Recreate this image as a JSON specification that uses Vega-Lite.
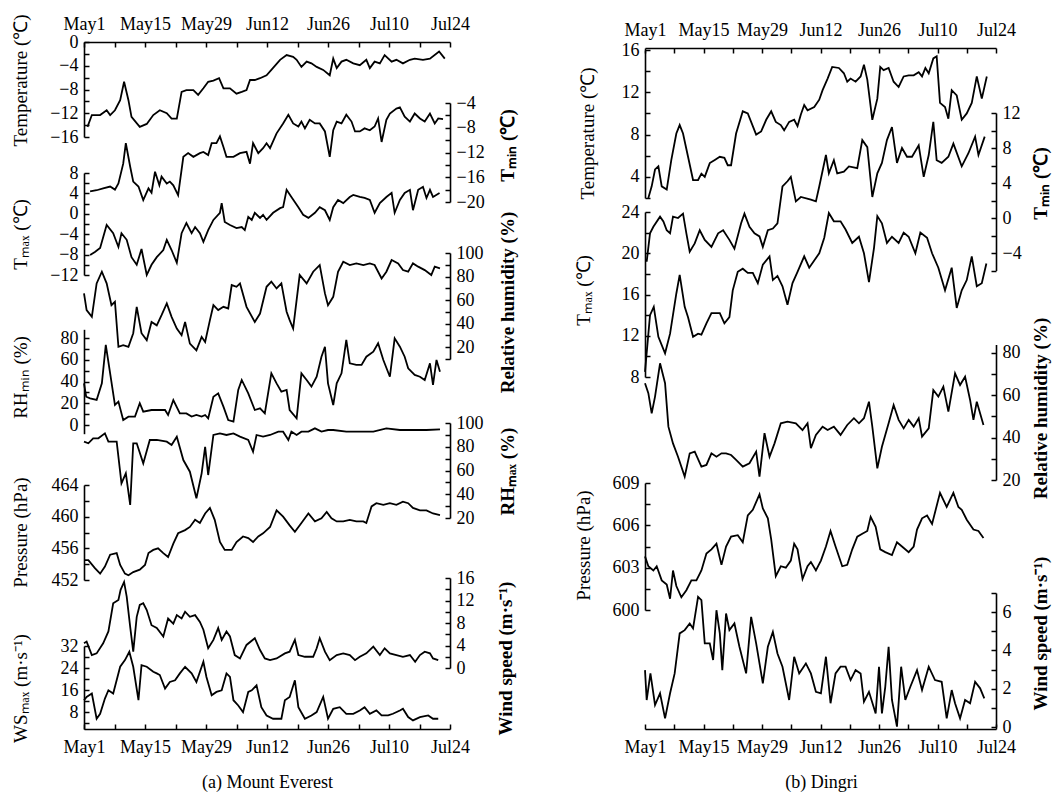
{
"$schema": "https://vega.github.io/schema/vega-lite/v6.json",
"width": 1056, "height": 794, "autosize": {"type": "none"}, "padding": 0, "background": "white",
"config": {
 "view": {"stroke": null},
 "axis": {"grid": false, "labelFont": "Liberation Serif", "labelFontSize": 18, "labelColor": "black", "labelFlush": false, "labelOverlap": false,
  "titleFont": "Liberation Serif", "titleFontSize": 19, "titleFontWeight": "normal", "titleColor": "black"}
},
"datasets": {
"a_T": [{"d":0.8,"v":-14.3},{"d":1.8,"v":-12.3},{"d":3.7,"v":-12.3},{"d":5.2,"v":-11.5},{"d":6.0,"v":-12.3},{"d":7.1,"v":-11.5},{"d":8.3,"v":-9.8},{"d":9.2,"v":-6.7},{"d":10.2,"v":-9.8},{"d":10.9,"v":-12.6},{"d":12.8,"v":-14.3},{"d":14.4,"v":-13.8},{"d":15.9,"v":-12.3},{"d":17.4,"v":-11.5},{"d":19.0,"v":-12.0},{"d":20.1,"v":-12.9},{"d":21.3,"v":-12.9},{"d":22.4,"v":-8.4},{"d":23.5,"v":-8.1},{"d":25.1,"v":-8.1},{"d":26.2,"v":-8.9},{"d":27.4,"v":-7.8},{"d":28.5,"v":-6.7},{"d":29.7,"v":-6.5},{"d":31.0,"v":-6.1},{"d":32.0,"v":-7.8},{"d":33.5,"v":-7.8},{"d":35.0,"v":-8.7},{"d":36.2,"v":-8.4},{"d":37.3,"v":-8.1},{"d":38.1,"v":-6.4},{"d":39.2,"v":-6.4},{"d":40.4,"v":-6.1},{"d":41.9,"v":-5.6},{"d":43.0,"v":-4.7},{"d":45.0,"v":-3.0},{"d":46.5,"v":-2.2},{"d":48.0,"v":-2.5},{"d":48.8,"v":-3.0},{"d":49.9,"v":-4.2},{"d":51.1,"v":-3.3},{"d":52.2,"v":-3.6},{"d":53.4,"v":-4.2},{"d":54.9,"v":-4.7},{"d":56.4,"v":-5.6},{"d":57.2,"v":-2.8},{"d":58.0,"v":-4.4},{"d":59.1,"v":-3.3},{"d":60.2,"v":-3.0},{"d":61.8,"v":-3.6},{"d":63.3,"v":-3.9},{"d":64.8,"v":-3.0},{"d":65.6,"v":-4.4},{"d":66.7,"v":-3.3},{"d":67.9,"v":-3.6},{"d":69.0,"v":-2.2},{"d":70.6,"v":-3.3},{"d":71.7,"v":-3.0},{"d":73.2,"v":-3.6},{"d":74.8,"v":-3.0},{"d":75.9,"v":-2.8},{"d":77.8,"v":-3.0},{"d":79.4,"v":-2.8},{"d":81.5,"v":-1.6},{"d":82.8,"v":-2.8}],
"a_Tmin": [{"d":1.4,"v":-18.3},{"d":2.9,"v":-18.1},{"d":4.4,"v":-17.8},{"d":6.0,"v":-17.5},{"d":7.1,"v":-18.0},{"d":7.9,"v":-17.0},{"d":9.0,"v":-13.8},{"d":9.6,"v":-10.5},{"d":10.6,"v":-14.3},{"d":11.3,"v":-16.7},{"d":12.5,"v":-17.5},{"d":13.6,"v":-19.7},{"d":14.8,"v":-17.8},{"d":15.5,"v":-18.5},{"d":16.3,"v":-15.1},{"d":17.3,"v":-17.3},{"d":17.8,"v":-15.9},{"d":19.0,"v":-17.0},{"d":19.7,"v":-16.7},{"d":20.5,"v":-17.3},{"d":21.6,"v":-18.9},{"d":22.8,"v":-12.7},{"d":23.9,"v":-12.1},{"d":25.1,"v":-12.7},{"d":26.6,"v":-12.1},{"d":27.4,"v":-11.9},{"d":28.5,"v":-12.4},{"d":29.3,"v":-10.5},{"d":30.4,"v":-10.5},{"d":31.2,"v":-9.4},{"d":32.0,"v":-11.1},{"d":32.7,"v":-12.7},{"d":34.3,"v":-12.7},{"d":35.8,"v":-12.1},{"d":37.3,"v":-11.9},{"d":38.1,"v":-13.8},{"d":38.8,"v":-10.5},{"d":40.0,"v":-12.1},{"d":41.1,"v":-11.3},{"d":41.9,"v":-10.5},{"d":42.7,"v":-11.3},{"d":44.2,"v":-8.9},{"d":45.7,"v":-7.3},{"d":46.9,"v":-5.9},{"d":48.0,"v":-7.3},{"d":49.2,"v":-7.8},{"d":49.9,"v":-7.0},{"d":50.7,"v":-8.1},{"d":51.8,"v":-6.7},{"d":53.0,"v":-7.3},{"d":54.1,"v":-7.3},{"d":55.3,"v":-8.6},{"d":56.4,"v":-12.7},{"d":57.2,"v":-8.4},{"d":58.0,"v":-7.0},{"d":59.1,"v":-7.3},{"d":60.2,"v":-5.9},{"d":61.4,"v":-7.0},{"d":62.2,"v":-8.6},{"d":63.3,"v":-8.6},{"d":64.4,"v":-8.1},{"d":65.6,"v":-8.4},{"d":66.7,"v":-7.8},{"d":67.5,"v":-6.5},{"d":68.3,"v":-10.3},{"d":69.4,"v":-6.7},{"d":70.2,"v":-5.7},{"d":71.7,"v":-4.9},{"d":72.5,"v":-4.7},{"d":73.6,"v":-6.2},{"d":74.8,"v":-7.0},{"d":75.9,"v":-5.7},{"d":77.1,"v":-6.5},{"d":78.2,"v":-7.0},{"d":79.4,"v":-5.7},{"d":80.5,"v":-7.3},{"d":81.3,"v":-6.5},{"d":82.4,"v":-6.6}],
"a_Tmax": [{"d":1.4,"v":-8.1},{"d":2.5,"v":-7.5},{"d":3.7,"v":-6.7},{"d":5.2,"v":-2.2},{"d":6.7,"v":-3.8},{"d":7.9,"v":-6.5},{"d":8.6,"v":-3.8},{"d":9.8,"v":-5.1},{"d":10.9,"v":-8.5},{"d":12.1,"v":-10.0},{"d":13.2,"v":-6.9},{"d":14.4,"v":-12.0},{"d":15.5,"v":-10.0},{"d":16.7,"v":-8.5},{"d":18.2,"v":-7.1},{"d":19.0,"v":-5.1},{"d":20.1,"v":-7.1},{"d":21.3,"v":-9.6},{"d":22.4,"v":-3.8},{"d":23.5,"v":-1.8},{"d":24.7,"v":-3.8},{"d":25.5,"v":-2.6},{"d":26.6,"v":-3.8},{"d":27.4,"v":-5.5},{"d":28.5,"v":-3.2},{"d":29.7,"v":-1.2},{"d":31.2,"v":0.2},{"d":31.6,"v":2.1},{"d":32.3,"v":-1.6},{"d":33.5,"v":-2.2},{"d":35.0,"v":-2.8},{"d":36.2,"v":-2.6},{"d":36.9,"v":-3.2},{"d":37.7,"v":-0.6},{"d":38.5,"v":-1.2},{"d":39.2,"v":0.2},{"d":40.4,"v":-0.8},{"d":41.1,"v":-0.2},{"d":41.9,"v":-1.2},{"d":43.4,"v":0.2},{"d":45.0,"v":1.1},{"d":45.7,"v":1.3},{"d":46.5,"v":4.7},{"d":47.6,"v":3.3},{"d":49.2,"v":1.3},{"d":50.3,"v":-0.2},{"d":51.5,"v":-0.8},{"d":53.0,"v":0.2},{"d":54.1,"v":1.3},{"d":55.3,"v":0.7},{"d":56.4,"v":-1.2},{"d":57.2,"v":1.3},{"d":58.3,"v":2.7},{"d":59.5,"v":2.1},{"d":61.0,"v":3.3},{"d":61.8,"v":3.7},{"d":63.3,"v":3.3},{"d":64.4,"v":3.1},{"d":65.6,"v":2.7},{"d":66.7,"v":0.2},{"d":67.9,"v":2.1},{"d":69.4,"v":3.3},{"d":70.6,"v":4.1},{"d":71.3,"v":0.2},{"d":72.5,"v":2.7},{"d":73.6,"v":4.1},{"d":74.8,"v":4.7},{"d":75.5,"v":0.7},{"d":76.7,"v":4.7},{"d":77.8,"v":5.3},{"d":78.6,"v":3.1},{"d":79.4,"v":4.7},{"d":80.1,"v":3.3},{"d":81.6,"v":4.1}],
"a_RH": [{"d":0,"v":65.7},{"d":0.6,"v":51.5},{"d":1.8,"v":45.8},{"d":2.9,"v":74.2},{"d":4.1,"v":84.1},{"d":5.2,"v":74.2},{"d":6.3,"v":55.7},{"d":7.1,"v":58.6},{"d":7.9,"v":20.3},{"d":9.0,"v":21.7},{"d":10.2,"v":20.3},{"d":11.3,"v":31.9},{"d":12.1,"v":54.3},{"d":13.2,"v":31.9},{"d":14.4,"v":26.0},{"d":15.5,"v":41.5},{"d":16.7,"v":38.6},{"d":17.8,"v":47.2},{"d":19.0,"v":57.2},{"d":20.1,"v":45.8},{"d":21.3,"v":35.9},{"d":22.4,"v":30.2},{"d":23.2,"v":41.5},{"d":24.3,"v":23.1},{"d":25.8,"v":17.4},{"d":27.0,"v":28.8},{"d":27.8,"v":24.5},{"d":28.9,"v":43.0},{"d":29.7,"v":55.7},{"d":30.8,"v":51.5},{"d":32.0,"v":54.3},{"d":33.1,"v":52.9},{"d":33.9,"v":72.8},{"d":35.0,"v":71.3},{"d":35.8,"v":74.2},{"d":37.3,"v":54.3},{"d":39.2,"v":41.5},{"d":40.4,"v":48.6},{"d":41.9,"v":71.3},{"d":43.0,"v":75.6},{"d":44.2,"v":69.9},{"d":45.3,"v":74.2},{"d":46.5,"v":50.1},{"d":47.2,"v":43.0},{"d":48.0,"v":35.9},{"d":49.5,"v":81.3},{"d":51.1,"v":74.2},{"d":52.6,"v":84.1},{"d":54.1,"v":89.8},{"d":55.3,"v":65.7},{"d":56.0,"v":55.7},{"d":57.2,"v":62.8},{"d":58.3,"v":84.1},{"d":59.5,"v":92.6},{"d":61.0,"v":89.8},{"d":62.5,"v":91.2},{"d":64.1,"v":89.8},{"d":65.6,"v":91.2},{"d":66.7,"v":89.8},{"d":68.3,"v":78.4},{"d":69.4,"v":84.1},{"d":70.6,"v":94.0},{"d":72.1,"v":91.2},{"d":73.2,"v":85.5},{"d":74.4,"v":84.1},{"d":75.5,"v":91.2},{"d":76.7,"v":88.4},{"d":78.2,"v":85.5},{"d":79.7,"v":81.3},{"d":80.5,"v":88.4},{"d":81.7,"v":87.0}],
"a_RHmin": [{"d":0,"v":38.3},{"d":0.5,"v":26.0},{"d":1.4,"v":24.5},{"d":2.9,"v":23.0},{"d":4.1,"v":38.3},{"d":5.0,"v":73.6},{"d":6.0,"v":47.5},{"d":7.1,"v":18.4},{"d":7.9,"v":21.5},{"d":9.0,"v":4.6},{"d":10.2,"v":7.7},{"d":11.7,"v":7.7},{"d":12.8,"v":20.0},{"d":13.6,"v":12.3},{"d":15.5,"v":13.8},{"d":17.0,"v":13.8},{"d":18.6,"v":13.8},{"d":19.3,"v":9.2},{"d":20.5,"v":23.0},{"d":22.0,"v":10.7},{"d":23.5,"v":10.7},{"d":24.7,"v":7.7},{"d":25.8,"v":9.2},{"d":27.0,"v":7.7},{"d":27.8,"v":9.2},{"d":28.5,"v":6.1},{"d":29.7,"v":26.0},{"d":30.8,"v":29.1},{"d":32.0,"v":16.9},{"d":33.1,"v":4.6},{"d":34.3,"v":3.1},{"d":35.4,"v":32.2},{"d":36.2,"v":41.4},{"d":37.7,"v":29.1},{"d":39.2,"v":13.8},{"d":40.4,"v":15.3},{"d":41.5,"v":10.7},{"d":43.0,"v":47.5},{"d":44.2,"v":38.3},{"d":45.3,"v":30.6},{"d":46.5,"v":32.2},{"d":47.2,"v":13.8},{"d":48.8,"v":6.1},{"d":49.9,"v":47.5},{"d":51.1,"v":41.4},{"d":52.2,"v":35.3},{"d":53.4,"v":44.4},{"d":54.5,"v":62.8},{"d":55.3,"v":72.0},{"d":56.0,"v":38.3},{"d":57.2,"v":18.4},{"d":58.0,"v":38.3},{"d":59.1,"v":47.5},{"d":60.2,"v":78.2},{"d":61.0,"v":56.7},{"d":62.5,"v":55.2},{"d":63.7,"v":55.2},{"d":64.8,"v":62.8},{"d":66.4,"v":67.4},{"d":67.5,"v":75.1},{"d":68.7,"v":59.8},{"d":70.2,"v":44.4},{"d":71.3,"v":79.7},{"d":72.5,"v":72.0},{"d":73.6,"v":62.8},{"d":74.4,"v":52.1},{"d":75.9,"v":46.0},{"d":77.1,"v":44.4},{"d":78.2,"v":41.4},{"d":79.4,"v":56.7},{"d":80.1,"v":36.8},{"d":80.9,"v":59.8},{"d":81.7,"v":49.0}],
"a_RHmax": [{"d":0,"v":84.3},{"d":1.0,"v":82.9},{"d":2.1,"v":87.1},{"d":3.3,"v":87.1},{"d":4.8,"v":91.3},{"d":5.6,"v":84.3},{"d":7.5,"v":84.3},{"d":8.6,"v":49.2},{"d":9.6,"v":57.6},{"d":10.6,"v":31.0},{"d":11.3,"v":82.9},{"d":12.1,"v":82.9},{"d":13.6,"v":66.0},{"d":15.1,"v":85.7},{"d":16.7,"v":85.7},{"d":19.0,"v":84.3},{"d":20.1,"v":81.5},{"d":21.3,"v":88.5},{"d":22.8,"v":68.8},{"d":24.3,"v":59.0},{"d":25.8,"v":36.6},{"d":27.0,"v":57.6},{"d":27.8,"v":80.0},{"d":28.5,"v":56.2},{"d":29.7,"v":89.9},{"d":31.2,"v":91.3},{"d":32.7,"v":89.9},{"d":34.3,"v":91.3},{"d":35.8,"v":88.5},{"d":37.7,"v":85.7},{"d":38.8,"v":75.8},{"d":39.6,"v":89.9},{"d":41.1,"v":88.5},{"d":42.7,"v":89.9},{"d":44.6,"v":92.7},{"d":45.7,"v":92.7},{"d":46.9,"v":85.7},{"d":47.6,"v":92.7},{"d":48.8,"v":89.9},{"d":49.9,"v":92.7},{"d":51.5,"v":92.7},{"d":53.0,"v":95.5},{"d":54.5,"v":92.7},{"d":56.0,"v":94.1},{"d":57.2,"v":94.1},{"d":60.2,"v":92.7},{"d":63.3,"v":92.7},{"d":66.4,"v":92.7},{"d":69.4,"v":95.5},{"d":72.5,"v":94.1},{"d":75.5,"v":94.1},{"d":78.6,"v":94.1},{"d":81.7,"v":94.7}],
"a_P": [{"d":0,"v":454.5},{"d":1.0,"v":454.5},{"d":2.5,"v":453.5},{"d":3.7,"v":452.8},{"d":4.8,"v":453.7},{"d":6.0,"v":455.2},{"d":7.5,"v":455.4},{"d":8.3,"v":453.9},{"d":9.4,"v":452.8},{"d":10.2,"v":452.6},{"d":11.3,"v":453.0},{"d":12.8,"v":453.3},{"d":14.0,"v":453.9},{"d":14.8,"v":455.4},{"d":15.9,"v":455.8},{"d":17.0,"v":456.0},{"d":18.2,"v":455.4},{"d":19.3,"v":454.9},{"d":20.5,"v":456.6},{"d":21.6,"v":457.9},{"d":23.2,"v":458.3},{"d":24.3,"v":458.7},{"d":25.5,"v":459.6},{"d":26.6,"v":459.2},{"d":27.8,"v":460.4},{"d":28.9,"v":461.1},{"d":30.0,"v":459.6},{"d":31.2,"v":456.8},{"d":32.3,"v":455.8},{"d":33.9,"v":455.8},{"d":35.0,"v":456.8},{"d":36.5,"v":457.5},{"d":37.7,"v":457.3},{"d":38.8,"v":456.8},{"d":40.0,"v":457.5},{"d":41.1,"v":457.9},{"d":42.7,"v":458.7},{"d":44.2,"v":460.8},{"d":45.7,"v":460.0},{"d":47.2,"v":458.9},{"d":48.4,"v":458.1},{"d":49.9,"v":459.2},{"d":51.5,"v":460.4},{"d":53.0,"v":459.4},{"d":54.5,"v":459.8},{"d":55.7,"v":460.6},{"d":56.8,"v":459.8},{"d":58.0,"v":459.4},{"d":59.5,"v":459.4},{"d":61.0,"v":459.6},{"d":62.5,"v":459.4},{"d":64.1,"v":459.4},{"d":64.8,"v":459.2},{"d":66.0,"v":461.3},{"d":67.1,"v":461.7},{"d":68.7,"v":461.5},{"d":70.2,"v":461.7},{"d":71.7,"v":461.5},{"d":73.2,"v":461.9},{"d":74.4,"v":461.7},{"d":75.5,"v":461.1},{"d":77.1,"v":460.8},{"d":78.6,"v":460.8},{"d":80.1,"v":460.4},{"d":81.7,"v":460.2}],
"a_WS": [{"d":0,"v":4.4},{"d":0.6,"v":4.7},{"d":1.8,"v":2.3},{"d":2.9,"v":2.6},{"d":4.4,"v":4.4},{"d":5.6,"v":6.5},{"d":6.7,"v":11.5},{"d":7.9,"v":12.1},{"d":8.4,"v":13.9},{"d":9.2,"v":15.3},{"d":9.8,"v":12.7},{"d":10.6,"v":7.3},{"d":11.3,"v":2.9},{"d":12.1,"v":9.1},{"d":12.8,"v":11.2},{"d":13.6,"v":11.5},{"d":14.4,"v":10.3},{"d":15.5,"v":7.6},{"d":16.7,"v":7.1},{"d":18.2,"v":5.6},{"d":19.3,"v":8.8},{"d":20.5,"v":7.9},{"d":21.3,"v":9.4},{"d":22.4,"v":8.8},{"d":23.2,"v":10.0},{"d":24.3,"v":9.1},{"d":25.5,"v":9.4},{"d":26.6,"v":8.2},{"d":27.4,"v":6.8},{"d":28.5,"v":3.5},{"d":29.7,"v":5.0},{"d":30.8,"v":7.1},{"d":31.6,"v":5.0},{"d":32.7,"v":6.5},{"d":33.5,"v":5.6},{"d":34.6,"v":2.3},{"d":35.8,"v":1.7},{"d":37.3,"v":4.1},{"d":39.2,"v":5.3},{"d":40.4,"v":3.2},{"d":41.5,"v":1.7},{"d":42.7,"v":1.4},{"d":44.2,"v":1.7},{"d":46.1,"v":2.6},{"d":47.2,"v":2.9},{"d":48.4,"v":5.0},{"d":49.2,"v":2.3},{"d":50.7,"v":2.0},{"d":52.6,"v":2.0},{"d":53.4,"v":3.5},{"d":54.1,"v":5.3},{"d":55.3,"v":2.9},{"d":56.4,"v":1.4},{"d":58.0,"v":2.3},{"d":59.5,"v":2.6},{"d":61.0,"v":2.3},{"d":62.2,"v":1.4},{"d":63.3,"v":2.0},{"d":64.8,"v":2.6},{"d":66.4,"v":3.8},{"d":67.9,"v":2.3},{"d":69.0,"v":3.5},{"d":70.2,"v":2.6},{"d":71.7,"v":2.3},{"d":73.2,"v":2.0},{"d":74.8,"v":2.3},{"d":76.0,"v":1.1},{"d":77.1,"v":2.3},{"d":78.2,"v":2.9},{"d":79.4,"v":2.6},{"d":80.1,"v":1.7},{"d":81.3,"v":1.4}],
"a_WSmax": [{"d":0,"v":12.4},{"d":0.6,"v":13.6},{"d":1.8,"v":14.8},{"d":2.9,"v":5.7},{"d":3.7,"v":7.5},{"d":4.8,"v":13.0},{"d":5.6,"v":16.0},{"d":6.7,"v":14.8},{"d":8.3,"v":24.5},{"d":9.4,"v":26.9},{"d":10.4,"v":29.9},{"d":11.3,"v":24.5},{"d":12.5,"v":12.4},{"d":13.2,"v":25.1},{"d":14.4,"v":24.5},{"d":15.9,"v":22.7},{"d":16.7,"v":22.1},{"d":17.4,"v":21.5},{"d":18.6,"v":16.6},{"d":19.7,"v":19.0},{"d":20.9,"v":19.6},{"d":22.0,"v":22.1},{"d":23.2,"v":24.5},{"d":24.7,"v":22.1},{"d":25.8,"v":19.0},{"d":27.4,"v":26.3},{"d":28.1,"v":20.8},{"d":29.3,"v":14.2},{"d":30.4,"v":15.4},{"d":31.6,"v":16.0},{"d":32.7,"v":22.1},{"d":33.5,"v":20.8},{"d":34.3,"v":12.4},{"d":35.4,"v":10.5},{"d":36.5,"v":8.1},{"d":37.7,"v":15.4},{"d":38.5,"v":16.0},{"d":39.6,"v":17.8},{"d":40.7,"v":9.9},{"d":41.9,"v":6.9},{"d":43.4,"v":5.7},{"d":45.3,"v":5.7},{"d":46.1,"v":12.4},{"d":47.2,"v":13.6},{"d":48.4,"v":19.6},{"d":49.2,"v":9.9},{"d":50.7,"v":5.7},{"d":52.2,"v":6.9},{"d":53.4,"v":8.1},{"d":54.9,"v":13.6},{"d":56.0,"v":5.7},{"d":57.2,"v":9.3},{"d":58.7,"v":9.9},{"d":60.2,"v":7.5},{"d":61.8,"v":7.5},{"d":63.3,"v":8.7},{"d":64.4,"v":9.9},{"d":65.6,"v":7.5},{"d":67.1,"v":8.7},{"d":68.3,"v":6.9},{"d":69.8,"v":6.9},{"d":70.9,"v":7.5},{"d":72.5,"v":8.7},{"d":73.2,"v":9.3},{"d":74.4,"v":6.3},{"d":75.5,"v":5.1},{"d":77.1,"v":6.3},{"d":79.0,"v":6.9},{"d":80.1,"v":5.7},{"d":81.3,"v":5.7}],
"b_T": [{"d":0.8,"v":2.0},{"d":1.6,"v":3.1},{"d":2.4,"v":4.7},{"d":3.2,"v":5.0},{"d":4.0,"v":3.1},{"d":5.2,"v":2.8},{"d":6.3,"v":5.6},{"d":7.5,"v":8.1},{"d":8.3,"v":8.9},{"d":9.1,"v":8.1},{"d":10.3,"v":5.9},{"d":11.5,"v":3.7},{"d":12.7,"v":3.7},{"d":13.5,"v":4.3},{"d":14.3,"v":4.0},{"d":15.5,"v":5.3},{"d":16.7,"v":5.6},{"d":17.9,"v":5.9},{"d":19.0,"v":5.8},{"d":19.8,"v":5.1},{"d":20.6,"v":5.1},{"d":21.8,"v":8.1},{"d":23.4,"v":10.2},{"d":24.6,"v":10.0},{"d":25.8,"v":8.8},{"d":26.6,"v":8.0},{"d":27.8,"v":8.3},{"d":29.0,"v":9.4},{"d":30.2,"v":10.2},{"d":31.3,"v":9.2},{"d":32.5,"v":8.9},{"d":33.3,"v":8.4},{"d":34.5,"v":9.2},{"d":35.7,"v":9.4},{"d":36.5,"v":8.8},{"d":37.3,"v":9.9},{"d":38.1,"v":10.8},{"d":38.9,"v":10.3},{"d":40.5,"v":10.6},{"d":41.7,"v":11.3},{"d":42.5,"v":12.2},{"d":43.7,"v":13.3},{"d":44.8,"v":14.4},{"d":46.4,"v":14.3},{"d":47.6,"v":13.8},{"d":48.4,"v":13.0},{"d":49.2,"v":13.3},{"d":50.4,"v":13.0},{"d":51.6,"v":13.5},{"d":52.4,"v":14.6},{"d":53.2,"v":13.2},{"d":54.4,"v":9.4},{"d":55.6,"v":11.4},{"d":56.3,"v":14.4},{"d":57.1,"v":14.1},{"d":58.3,"v":14.3},{"d":59.5,"v":13.0},{"d":60.7,"v":12.5},{"d":61.9,"v":13.5},{"d":63.1,"v":13.6},{"d":64.3,"v":13.6},{"d":65.5,"v":13.9},{"d":66.3,"v":13.5},{"d":67.1,"v":14.3},{"d":67.9,"v":13.8},{"d":69.0,"v":15.2},{"d":69.8,"v":15.4},{"d":70.6,"v":11.0},{"d":71.8,"v":10.6},{"d":72.6,"v":9.5},{"d":73.4,"v":12.2},{"d":74.6,"v":11.7},{"d":75.8,"v":9.4},{"d":77.0,"v":10.0},{"d":78.2,"v":11.0},{"d":79.4,"v":13.5},{"d":80.6,"v":11.4},{"d":81.8,"v":13.5}],
"b_Tmin": [{"d":0.4,"v":-5.0},{"d":1.2,"v":-1.75},{"d":2.0,"v":-1.0},{"d":3.6,"v":0.15},{"d":4.4,"v":-0.4},{"d":5.2,"v":-1.4},{"d":6.0,"v":-1.75},{"d":6.7,"v":0.15},{"d":7.9,"v":0.0},{"d":9.1,"v":0.5},{"d":9.9,"v":-1.75},{"d":10.7,"v":-3.85},{"d":11.9,"v":-2.9},{"d":13.1,"v":-1.4},{"d":14.3,"v":-2.5},{"d":15.9,"v":-3.3},{"d":17.5,"v":-1.75},{"d":18.7,"v":-1.4},{"d":20.2,"v":-2.5},{"d":21.4,"v":-3.5},{"d":23.0,"v":-0.6},{"d":23.8,"v":0.5},{"d":25.0,"v":-1.0},{"d":26.2,"v":-1.75},{"d":27.4,"v":-2.1},{"d":28.2,"v":-3.3},{"d":29.4,"v":-1.4},{"d":30.6,"v":-1.2},{"d":31.7,"v":-0.6},{"d":32.9,"v":3.6},{"d":34.1,"v":4.2},{"d":34.9,"v":4.7},{"d":36.1,"v":1.9},{"d":37.3,"v":2.4},{"d":39.7,"v":2.1},{"d":40.9,"v":1.9},{"d":41.7,"v":3.6},{"d":43.3,"v":7.2},{"d":44.0,"v":5.1},{"d":45.2,"v":6.6},{"d":46.0,"v":5.1},{"d":47.6,"v":5.3},{"d":48.8,"v":5.9},{"d":50.8,"v":5.7},{"d":52.0,"v":8.9},{"d":53.2,"v":8.1},{"d":54.4,"v":2.4},{"d":55.6,"v":5.1},{"d":56.7,"v":6.3},{"d":57.9,"v":8.9},{"d":59.1,"v":10.4},{"d":60.3,"v":6.3},{"d":61.5,"v":8.0},{"d":62.7,"v":7.0},{"d":63.9,"v":7.0},{"d":65.5,"v":8.3},{"d":66.7,"v":4.7},{"d":67.9,"v":7.2},{"d":69.0,"v":11.0},{"d":69.8,"v":6.6},{"d":71.0,"v":6.3},{"d":72.6,"v":7.0},{"d":73.8,"v":8.5},{"d":75.8,"v":5.9},{"d":77.4,"v":7.4},{"d":79.0,"v":9.3},{"d":79.8,"v":7.2},{"d":81.3,"v":9.3}],
"b_Tmax": [{"d":0,"v":8.5},{"d":1.2,"v":14.0},{"d":2.1,"v":14.8},{"d":3.2,"v":11.9},{"d":4.8,"v":10.3},{"d":6.0,"v":12.2},{"d":7.5,"v":16.1},{"d":8.3,"v":17.9},{"d":9.5,"v":14.8},{"d":10.3,"v":13.8},{"d":11.5,"v":11.9},{"d":12.7,"v":12.2},{"d":13.5,"v":12.1},{"d":14.7,"v":13.2},{"d":15.9,"v":14.2},{"d":17.9,"v":14.2},{"d":19.0,"v":13.2},{"d":20.2,"v":13.8},{"d":21.0,"v":16.4},{"d":22.2,"v":18.2},{"d":23.4,"v":18.5},{"d":24.6,"v":18.1},{"d":25.8,"v":18.1},{"d":27.0,"v":17.1},{"d":28.2,"v":18.9},{"d":29.8,"v":19.7},{"d":30.6,"v":17.4},{"d":31.7,"v":17.8},{"d":32.9,"v":16.8},{"d":34.1,"v":15.0},{"d":35.3,"v":17.1},{"d":36.5,"v":18.2},{"d":38.1,"v":19.7},{"d":39.3,"v":18.6},{"d":40.5,"v":19.3},{"d":41.7,"v":20.0},{"d":42.9,"v":21.5},{"d":44.0,"v":23.9},{"d":45.2,"v":23.1},{"d":46.8,"v":23.1},{"d":48.0,"v":22.3},{"d":49.6,"v":21.0},{"d":51.2,"v":21.6},{"d":52.4,"v":20.0},{"d":53.6,"v":17.2},{"d":54.8,"v":20.5},{"d":55.6,"v":23.6},{"d":56.7,"v":22.9},{"d":57.9,"v":21.0},{"d":59.1,"v":21.6},{"d":60.7,"v":21.0},{"d":61.9,"v":22.0},{"d":63.1,"v":21.6},{"d":64.7,"v":20.0},{"d":65.9,"v":22.0},{"d":67.5,"v":21.5},{"d":68.7,"v":20.0},{"d":70.2,"v":18.6},{"d":71.8,"v":16.4},{"d":73.4,"v":18.6},{"d":74.6,"v":14.7},{"d":75.8,"v":16.4},{"d":77.0,"v":17.4},{"d":78.2,"v":19.7},{"d":79.4,"v":16.8},{"d":80.6,"v":17.1},{"d":81.7,"v":19.0}],
"b_RH": [{"d":0,"v":65.7},{"d":0.8,"v":61.0},{"d":1.6,"v":51.5},{"d":2.4,"v":59.4},{"d":3.6,"v":75.1},{"d":4.8,"v":65.7},{"d":5.6,"v":45.2},{"d":6.7,"v":37.3},{"d":7.9,"v":31.0},{"d":9.5,"v":21.6},{"d":10.7,"v":32.6},{"d":11.9,"v":33.4},{"d":13.5,"v":26.3},{"d":14.7,"v":27.1},{"d":15.9,"v":32.6},{"d":17.1,"v":31.0},{"d":18.3,"v":32.6},{"d":19.4,"v":32.6},{"d":20.6,"v":31.8},{"d":21.8,"v":29.5},{"d":23.4,"v":26.3},{"d":25.0,"v":27.9},{"d":26.6,"v":33.4},{"d":27.4,"v":21.6},{"d":28.6,"v":42.1},{"d":29.8,"v":31.0},{"d":31.0,"v":37.3},{"d":32.5,"v":46.8},{"d":34.1,"v":47.6},{"d":36.1,"v":46.8},{"d":37.7,"v":43.6},{"d":38.9,"v":46.8},{"d":39.7,"v":35.0},{"d":40.9,"v":41.3},{"d":42.5,"v":45.2},{"d":43.7,"v":43.6},{"d":45.2,"v":45.2},{"d":46.8,"v":41.3},{"d":48.4,"v":46.0},{"d":50.0,"v":49.2},{"d":51.2,"v":46.8},{"d":52.4,"v":49.2},{"d":53.6,"v":57.0},{"d":54.4,"v":45.2},{"d":55.6,"v":25.5},{"d":56.7,"v":35.7},{"d":58.3,"v":46.8},{"d":59.5,"v":55.4},{"d":60.7,"v":48.4},{"d":61.9,"v":44.4},{"d":63.1,"v":48.4},{"d":64.3,"v":45.2},{"d":65.5,"v":49.2},{"d":66.3,"v":40.5},{"d":67.9,"v":44.4},{"d":69.0,"v":62.5},{"d":70.2,"v":59.4},{"d":71.4,"v":64.1},{"d":72.6,"v":52.3},{"d":74.2,"v":70.4},{"d":75.4,"v":64.9},{"d":76.6,"v":68.8},{"d":77.8,"v":57.8},{"d":78.6,"v":48.4},{"d":79.4,"v":57.0},{"d":81.0,"v":46.0}],
"b_P": [{"d":0,"v":603.8},{"d":0.8,"v":603.1},{"d":2.0,"v":602.8},{"d":2.8,"v":603.1},{"d":4.0,"v":602.1},{"d":5.2,"v":601.8},{"d":6.0,"v":600.8},{"d":6.7,"v":602.8},{"d":7.5,"v":601.7},{"d":8.7,"v":600.9},{"d":9.9,"v":601.4},{"d":11.1,"v":602.1},{"d":12.3,"v":602.1},{"d":13.5,"v":602.8},{"d":14.7,"v":604.0},{"d":15.9,"v":604.3},{"d":17.1,"v":604.7},{"d":18.3,"v":603.2},{"d":19.4,"v":604.5},{"d":20.6,"v":605.2},{"d":22.2,"v":605.3},{"d":23.4,"v":604.8},{"d":24.6,"v":606.7},{"d":25.8,"v":607.1},{"d":27.4,"v":608.2},{"d":28.2,"v":607.2},{"d":29.4,"v":606.5},{"d":30.2,"v":605.0},{"d":31.3,"v":602.4},{"d":32.5,"v":603.1},{"d":33.7,"v":603.0},{"d":34.9,"v":603.5},{"d":35.7,"v":604.7},{"d":36.5,"v":604.3},{"d":37.7,"v":602.2},{"d":38.9,"v":603.1},{"d":39.7,"v":603.4},{"d":40.9,"v":602.8},{"d":42.1,"v":603.5},{"d":43.3,"v":604.5},{"d":44.4,"v":605.6},{"d":45.6,"v":604.5},{"d":47.2,"v":603.1},{"d":48.4,"v":603.2},{"d":49.6,"v":604.3},{"d":50.8,"v":605.2},{"d":52.0,"v":605.4},{"d":53.2,"v":605.6},{"d":54.0,"v":606.6},{"d":55.2,"v":605.9},{"d":56.3,"v":604.3},{"d":57.5,"v":604.1},{"d":59.1,"v":603.9},{"d":60.3,"v":604.8},{"d":61.5,"v":604.5},{"d":63.1,"v":604.1},{"d":64.3,"v":604.5},{"d":65.1,"v":605.7},{"d":66.3,"v":606.5},{"d":67.5,"v":606.7},{"d":68.7,"v":606.1},{"d":70.6,"v":608.3},{"d":72.2,"v":607.3},{"d":73.8,"v":608.3},{"d":75.0,"v":607.3},{"d":75.8,"v":607.1},{"d":77.0,"v":606.4},{"d":78.6,"v":605.7},{"d":79.8,"v":605.6},{"d":81.0,"v":605.1}],
"b_WS": [{"d":0,"v":2.97},{"d":0.4,"v":1.41},{"d":1.3,"v":2.8},{"d":2.4,"v":1.15},{"d":3.6,"v":1.76},{"d":4.8,"v":0.45},{"d":6.0,"v":1.76},{"d":7.1,"v":2.8},{"d":8.3,"v":4.89},{"d":9.5,"v":5.06},{"d":10.7,"v":5.41},{"d":11.5,"v":5.15},{"d":12.7,"v":6.8},{"d":13.5,"v":6.63},{"d":14.3,"v":4.37},{"d":15.5,"v":4.37},{"d":16.3,"v":3.5},{"d":17.1,"v":6.1},{"d":17.9,"v":4.89},{"d":18.5,"v":2.97},{"d":19.4,"v":5.93},{"d":20.2,"v":5.06},{"d":21.4,"v":5.41},{"d":22.6,"v":4.19},{"d":24.2,"v":2.8},{"d":25.4,"v":5.75},{"d":26.6,"v":4.37},{"d":28.2,"v":2.28},{"d":29.4,"v":4.19},{"d":30.6,"v":4.97},{"d":31.7,"v":3.84},{"d":32.9,"v":3.15},{"d":34.5,"v":1.41},{"d":35.7,"v":3.67},{"d":36.9,"v":2.8},{"d":38.5,"v":3.32},{"d":39.7,"v":2.8},{"d":40.9,"v":1.84},{"d":42.1,"v":1.76},{"d":43.3,"v":3.67},{"d":44.4,"v":1.24},{"d":45.6,"v":2.8},{"d":46.8,"v":3.15},{"d":48.0,"v":3.15},{"d":49.2,"v":2.45},{"d":50.4,"v":2.97},{"d":51.6,"v":2.8},{"d":52.4,"v":1.32},{"d":53.6,"v":1.84},{"d":55.2,"v":0.71},{"d":56.0,"v":3.15},{"d":56.7,"v":0.71},{"d":57.5,"v":2.1},{"d":58.3,"v":4.19},{"d":59.1,"v":1.41},{"d":60.3,"v":0.02},{"d":61.3,"v":3.15},{"d":62.3,"v":1.41},{"d":63.5,"v":2.1},{"d":65.1,"v":2.97},{"d":66.3,"v":1.93},{"d":67.9,"v":3.15},{"d":69.4,"v":2.45},{"d":71.0,"v":2.36},{"d":72.2,"v":0.45},{"d":73.4,"v":1.93},{"d":74.2,"v":1.24},{"d":75.4,"v":0.45},{"d":76.6,"v":1.41},{"d":77.8,"v":1.24},{"d":79.0,"v":2.36},{"d":80.2,"v":2.02},{"d":81.2,"v":1.5}]
},
"layer": [
 {"data": {"name": "a_T"}, "mark": {"type": "line", "color": "black", "strokeWidth": 1.8},
  "encoding": {
   "x": {"field": "d", "type": "quantitative", "scale": {"domain": [0, 84], "range": [84, 450], "nice": false, "zero": false},
         "axis": {"orient": "top", "offset": -42, "values": [0,7,14,21,28,35,42,49,56,63,70,77,84], "domainColor": "black", "domainWidth": 1.6, "tickColor": "black", "tickWidth": 1.5, "tickSize": -5, "labelPadding": 14, "title": null,
                  "labelExpr": "datum.value % 14 === 0 ? ['May1','May15','May29','Jun12','Jun26','Jul10','Jul24'][datum.value / 14] : ''"}},
   "y": {"field": "v", "type": "quantitative", "scale": {"domain": [-16, 0], "range": [137, 42], "nice": false, "zero": false},
         "axis": {"orient": "left", "offset": -84, "values": [-16,-14,-12,-10,-8,-6,-4,-2,0], "domainColor": "black", "domainWidth": 1.6, "tickColor": "black", "tickWidth": 1.5, "tickSize": -5, "labelPadding": 11, "labelExpr": "datum.value % 4 === 0 ? datum.label : ''",
                  "title": "Temperature (℃)", "titleAngle": 270, "titleAlign": "center", "titleBaseline": "middle", "titleX": -64, "titleY": 80}}}},
 {"data": {"name": "a_Tmin"}, "mark": {"type": "line", "color": "black", "strokeWidth": 1.8},
  "encoding": {
   "x": {"field": "d", "type": "quantitative", "scale": {"domain": [0, 84], "range": [84, 450], "nice": false, "zero": false}, "axis": null},
   "y": {"field": "v", "type": "quantitative", "scale": {"domain": [-20, -4], "range": [202, 103], "nice": false, "zero": false},
         "axis": {"orient": "right", "offset": -606, "values": [-20,-18,-16,-14,-12,-10,-8,-6,-4], "domainColor": "black", "domainWidth": 1.6, "tickColor": "black", "tickWidth": 1.5, "tickSize": -5, "labelPadding": 11, "labelExpr": "datum.value % 4 === 0 ? datum.label : ''",
                  "title": "Tₘᵢₙ (℃)", "titleFontWeight": "bold", "titleAngle": 270, "titleAlign": "center", "titleBaseline": "middle", "titleX": 57, "titleY": 145}}}},
 {"data": {"name": "a_Tmax"}, "mark": {"type": "line", "color": "black", "strokeWidth": 1.8},
  "encoding": {
   "x": {"field": "d", "type": "quantitative", "scale": {"domain": [0, 84], "range": [84, 450], "nice": false, "zero": false}, "axis": null},
   "y": {"field": "v", "type": "quantitative", "scale": {"domain": [-12, 8], "range": [275, 173], "nice": false, "zero": false},
         "axis": {"orient": "left", "offset": -84, "values": [-12,-10,-8,-6,-4,-2,0,2,4,6,8], "domainColor": "black", "domainWidth": 1.6, "tickColor": "black", "tickWidth": 1.5, "tickSize": -5, "labelPadding": 11, "labelExpr": "datum.value % 4 === 0 ? datum.label : ''",
                  "title": "Tₘₐₓ (℃)", "titleAngle": 270, "titleAlign": "center", "titleBaseline": "middle", "titleX": -64, "titleY": 234}}}},
 {"data": {"name": "a_RH"}, "mark": {"type": "line", "color": "black", "strokeWidth": 1.8},
  "encoding": {
   "x": {"field": "d", "type": "quantitative", "scale": {"domain": [0, 84], "range": [84, 450], "nice": false, "zero": false}, "axis": null},
   "y": {"field": "v", "type": "quantitative", "scale": {"domain": [10, 100], "range": [359, 253], "nice": false, "zero": false},
         "axis": {"orient": "right", "offset": -606, "values": [10,20,30,40,50,60,70,80,90,100], "domainColor": "black", "domainWidth": 1.6, "tickColor": "black", "tickWidth": 1.5, "tickSize": -5, "labelPadding": 11, "labelExpr": "datum.value % 20 === 0 ? datum.label : ''",
                  "title": "Relative humidity (%)", "titleFontWeight": "bold", "titleAngle": 270, "titleAlign": "center", "titleBaseline": "middle", "titleX": 57, "titleY": 302}}}},
 {"data": {"name": "a_RHmin"}, "mark": {"type": "line", "color": "black", "strokeWidth": 1.8},
  "encoding": {
   "x": {"field": "d", "type": "quantitative", "scale": {"domain": [0, 84], "range": [84, 450], "nice": false, "zero": false}, "axis": null},
   "y": {"field": "v", "type": "quantitative", "scale": {"domain": [-8, 88], "range": [433.7, 329.3], "nice": false, "zero": false},
         "axis": {"orient": "left", "offset": -84, "values": [0,10,20,30,40,50,60,70,80], "domainColor": "black", "domainWidth": 1.6, "tickColor": "black", "tickWidth": 1.5, "tickSize": -5, "labelPadding": 11, "labelExpr": "datum.value % 20 === 0 ? datum.label : ''",
                  "title": "RHₘᵢₙ (%)", "titleAngle": 270, "titleAlign": "center", "titleBaseline": "middle", "titleX": -64, "titleY": 377}}}},
 {"data": {"name": "a_RHmax"}, "mark": {"type": "line", "color": "black", "strokeWidth": 1.8},
  "encoding": {
   "x": {"field": "d", "type": "quantitative", "scale": {"domain": [0, 84], "range": [84, 450], "nice": false, "zero": false}, "axis": null},
   "y": {"field": "v", "type": "quantitative", "scale": {"domain": [20, 100], "range": [518, 423], "nice": false, "zero": false},
         "axis": {"orient": "right", "offset": -606, "values": [20,30,40,50,60,70,80,90,100], "domainColor": "black", "domainWidth": 1.6, "tickColor": "black", "tickWidth": 1.5, "tickSize": -5, "labelPadding": 11, "labelExpr": "datum.value % 20 === 0 ? datum.label : ''",
                  "title": "RHₘₐₓ (%)", "titleFontWeight": "bold", "titleAngle": 270, "titleAlign": "center", "titleBaseline": "middle", "titleX": 57, "titleY": 471}}}},
 {"data": {"name": "a_P"}, "mark": {"type": "line", "color": "black", "strokeWidth": 1.8},
  "encoding": {
   "x": {"field": "d", "type": "quantitative", "scale": {"domain": [0, 84], "range": [84, 450], "nice": false, "zero": false}, "axis": null},
   "y": {"field": "v", "type": "quantitative", "scale": {"domain": [452, 464], "range": [580, 485], "nice": false, "zero": false},
         "axis": {"orient": "left", "offset": -84, "values": [452,454,456,458,460,462,464], "domainColor": "black", "domainWidth": 1.6, "tickColor": "black", "tickWidth": 1.5, "tickSize": -5, "labelPadding": 11, "labelExpr": "(datum.value - 452) % 4 === 0 ? datum.label : ''",
                  "title": "Pressure (hPa)", "titleAngle": 270, "titleAlign": "center", "titleBaseline": "middle", "titleX": -64, "titleY": 532}}}},
 {"data": {"name": "a_WS"}, "mark": {"type": "line", "color": "black", "strokeWidth": 1.8},
  "encoding": {
   "x": {"field": "d", "type": "quantitative", "scale": {"domain": [0, 84], "range": [84, 450], "nice": false, "zero": false}, "axis": null},
   "y": {"field": "v", "type": "quantitative", "scale": {"domain": [0, 16], "range": [668, 578], "nice": false, "zero": false},
         "axis": {"orient": "right", "offset": -606, "values": [0,2,4,6,8,10,12,14,16], "domainColor": "black", "domainWidth": 1.6, "tickColor": "black", "tickWidth": 1.5, "tickSize": -5, "labelPadding": 11, "labelExpr": "datum.value % 4 === 0 ? datum.label : ''",
                  "title": "Wind speed (m·s⁻¹)", "titleFontWeight": "bold", "titleAngle": 270, "titleAlign": "center", "titleBaseline": "middle", "titleX": 55, "titleY": 658}}}},
 {"data": {"name": "a_WSmax"}, "mark": {"type": "line", "color": "black", "strokeWidth": 1.8},
  "encoding": {
   "x": {"field": "d", "type": "quantitative", "scale": {"domain": [0, 84], "range": [84, 450], "nice": false, "zero": false},
         "axis": {"orient": "bottom", "offset": -65, "values": [0,7,14,21,28,35,42,49,56,63,70,77,84], "domainColor": "black", "domainWidth": 1.6, "tickColor": "black", "tickWidth": 1.5, "tickSize": -5, "labelPadding": 14,
                  "labelExpr": "datum.value % 14 === 0 ? ['May1','May15','May29','Jun12','Jun26','Jul10','Jul24'][datum.value / 14] : ''",
                  "title": "(a) Mount Everest", "titleFontSize": 18, "titleX": 267, "titleY": 53, "titleBaseline": "middle", "titleAlign": "center"}},
   "y": {"field": "v", "type": "quantitative", "scale": {"domain": [2, 32], "range": [729, 646], "nice": false, "zero": false},
         "axis": {"orient": "left", "offset": -84, "values": [4,8,12,16,20,24,28,32], "domainColor": "black", "domainWidth": 1.6, "tickColor": "black", "tickWidth": 1.5, "tickSize": -5, "labelPadding": 11, "labelExpr": "datum.value % 8 === 0 ? datum.label : ''",
                  "title": "WSₘₐₓ (m·s⁻¹)", "titleAngle": 270, "titleAlign": "center", "titleBaseline": "middle", "titleX": -64, "titleY": 688}}}},
 {"data": {"name": "b_T"}, "mark": {"type": "line", "color": "black", "strokeWidth": 1.8},
  "encoding": {
   "x": {"field": "d", "type": "quantitative", "scale": {"domain": [0, 84], "range": [645, 996], "nice": false, "zero": false},
         "axis": {"orient": "top", "offset": -48, "values": [0,7,14,21,28,35,42,49,56,63,70,77,84], "domainColor": "black", "domainWidth": 1.6, "tickColor": "black", "tickWidth": 1.5, "tickSize": -5, "labelPadding": 14, "title": null,
                  "labelExpr": "datum.value % 14 === 0 ? ['May1','May15','May29','Jun12','Jun26','Jul10','Jul24'][datum.value / 14] : ''"}},
   "y": {"field": "v", "type": "quantitative", "scale": {"domain": [2, 16], "range": [198, 50], "nice": false, "zero": false},
         "axis": {"orient": "left", "offset": -645, "values": [2,4,6,8,10,12,14,16], "domainColor": "black", "domainWidth": 1.6, "tickColor": "black", "tickWidth": 1.5, "tickSize": -5, "labelPadding": 11, "labelExpr": "datum.value % 4 === 0 ? datum.label : ''",
                  "title": "Temperature (℃)", "titleAngle": 270, "titleAlign": "center", "titleBaseline": "middle", "titleX": -58, "titleY": 133}}}},
 {"data": {"name": "b_Tmin"}, "mark": {"type": "line", "color": "black", "strokeWidth": 1.8},
  "encoding": {
   "x": {"field": "d", "type": "quantitative", "scale": {"domain": [0, 84], "range": [645, 996], "nice": false, "zero": false}, "axis": null},
   "y": {"field": "v", "type": "quantitative", "scale": {"domain": [-6, 12], "range": [270.5, 113], "nice": false, "zero": false},
         "axis": {"orient": "right", "offset": -60, "values": [-6,-4,-2,0,2,4,6,8,10,12], "domainColor": "black", "domainWidth": 1.6, "tickColor": "black", "tickWidth": 1.5, "tickSize": -5, "labelPadding": 11, "labelExpr": "datum.value % 4 === 0 ? datum.label : ''",
                  "title": "Tₘᵢₙ (℃)", "titleFontWeight": "bold", "titleAngle": 270, "titleAlign": "center", "titleBaseline": "middle", "titleX": 44, "titleY": 183}}}},
 {"data": {"name": "b_Tmax"}, "mark": {"type": "line", "color": "black", "strokeWidth": 1.8},
  "encoding": {
   "x": {"field": "d", "type": "quantitative", "scale": {"domain": [0, 84], "range": [645, 996], "nice": false, "zero": false}, "axis": null},
   "y": {"field": "v", "type": "quantitative", "scale": {"domain": [8, 24], "range": [377, 212], "nice": false, "zero": false},
         "axis": {"orient": "left", "offset": -645, "values": [8,10,12,14,16,18,20,22,24], "domainColor": "black", "domainWidth": 1.6, "tickColor": "black", "tickWidth": 1.5, "tickSize": -5, "labelPadding": 11, "labelExpr": "datum.value % 4 === 0 ? datum.label : ''",
                  "title": "Tₘₐₓ (℃)", "titleAngle": 270, "titleAlign": "center", "titleBaseline": "middle", "titleX": -62, "titleY": 290}}}},
 {"data": {"name": "b_RH"}, "mark": {"type": "line", "color": "black", "strokeWidth": 1.8},
  "encoding": {
   "x": {"field": "d", "type": "quantitative", "scale": {"domain": [0, 84], "range": [645, 996], "nice": false, "zero": false}, "axis": null},
   "y": {"field": "v", "type": "quantitative", "scale": {"domain": [20, 84], "range": [480, 344.5], "nice": false, "zero": false},
         "axis": {"orient": "right", "offset": -60, "values": [20,30,40,50,60,70,80], "domainColor": "black", "domainWidth": 1.6, "tickColor": "black", "tickWidth": 1.5, "tickSize": -5, "labelPadding": 11, "labelExpr": "datum.value % 20 === 0 ? datum.label : ''",
                  "title": "Relative humidity (%)", "titleFontWeight": "bold", "titleAngle": 270, "titleAlign": "center", "titleBaseline": "middle", "titleX": 44, "titleY": 408}}}},
 {"data": {"name": "b_P"}, "mark": {"type": "line", "color": "black", "strokeWidth": 1.8},
  "encoding": {
   "x": {"field": "d", "type": "quantitative", "scale": {"domain": [0, 84], "range": [645, 996], "nice": false, "zero": false}, "axis": null},
   "y": {"field": "v", "type": "quantitative", "scale": {"domain": [600, 609], "range": [610, 483], "nice": false, "zero": false},
         "axis": {"orient": "left", "offset": -645, "values": [600,601.5,603,604.5,606,607.5,609], "domainColor": "black", "domainWidth": 1.6, "tickColor": "black", "tickWidth": 1.5, "tickSize": -5, "labelPadding": 11, "labelExpr": "datum.value % 3 === 0 ? datum.label : ''",
                  "title": "Pressure (hPa)", "titleAngle": 270, "titleAlign": "center", "titleBaseline": "middle", "titleX": -62, "titleY": 545}}}},
 {"data": {"name": "b_WS"}, "mark": {"type": "line", "color": "black", "strokeWidth": 1.8},
  "encoding": {
   "x": {"field": "d", "type": "quantitative", "scale": {"domain": [0, 84], "range": [645, 996], "nice": false, "zero": false},
         "axis": {"orient": "bottom", "offset": -65, "values": [0,7,14,21,28,35,42,49,56,63,70,77,84], "domainColor": "black", "domainWidth": 1.6, "tickColor": "black", "tickWidth": 1.5, "tickSize": -5, "labelPadding": 14,
                  "labelExpr": "datum.value % 14 === 0 ? ['May1','May15','May29','Jun12','Jun26','Jul10','Jul24'][datum.value / 14] : ''",
                  "title": "(b) Dingri", "titleFontSize": 18, "titleX": 821, "titleY": 53, "titleBaseline": "middle", "titleAlign": "center"}},
   "y": {"field": "v", "type": "quantitative", "scale": {"domain": [0, 7], "range": [727, 593], "nice": false, "zero": false},
         "axis": {"orient": "right", "offset": -60, "values": [0,1,2,3,4,5,6,7], "domainColor": "black", "domainWidth": 1.6, "tickColor": "black", "tickWidth": 1.5, "tickSize": -5, "labelPadding": 11, "labelExpr": "datum.value % 2 === 0 ? datum.label : ''",
                  "title": "Wind speed (m·s⁻¹)", "titleFontWeight": "bold", "titleAngle": 270, "titleAlign": "center", "titleBaseline": "middle", "titleX": 44, "titleY": 633}}}}
],
"resolve": {"scale": {"x": "independent", "y": "independent"}, "axis": {"x": "independent", "y": "independent"}}
}
